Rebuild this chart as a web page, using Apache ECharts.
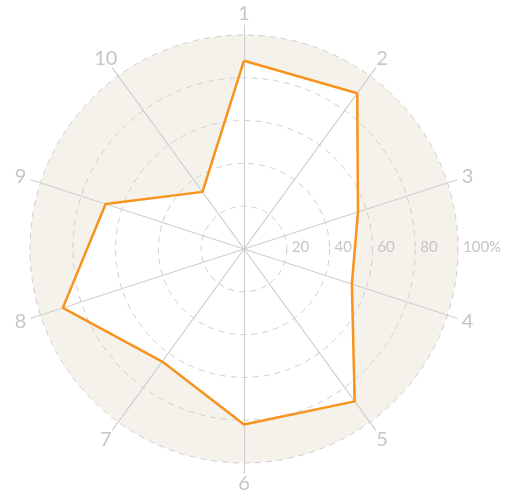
<!DOCTYPE html>
<html>
<head>
<meta charset="utf-8">
<script src="https://cdn.jsdelivr.net/npm/echarts@6/dist/echarts.min.js"></script>
<style>
  html, body { margin: 0; padding: 0; background: #fff; }
  #chart { width: 513px; height: 497px; }
</style>
</head>
<body>
<div id="chart"></div>
<script>
// Spoke labels, clockwise from the top
const categories = ['1', '2', '3', '4', '5', '6', '7', '8', '9', '10'];
// Score per spoke, in percent
const values = [88, 90, 56, 53, 88, 82, 65, 89, 68, 33];
// Ring labels
const ringTicks = [20, 40, 60, 80, 100];

// The radar lays indicators out counter-clockwise, so keep the first one at
// the top and walk the rest backwards to read clockwise.
const order = [0].concat(categories.map((_, i) => i).slice(1).reverse());
const cwCategories = order.map(i => categories[i]);
const cwValues = order.map(i => values[i]);

const CENTER = [244, 249];
const R = 214;          // radius of the 100% ring
const SPOKE_R = 224;    // spokes run a little past the outer ring
const GRID = '#cfcfcf';
const TEXT = '#c6c6c6';
const FONT = 'Lato, "Open Sans", sans-serif';

const chart = echarts.init(document.getElementById('chart'), null, { renderer: 'canvas' });

const ringAxisBase = {
  min: 0, max: 100, interval: 20,
  axisLine: { show: false },
  axisTick: { show: false },
  splitLine: { show: false }
};

chart.setOption({
  animation: false,
  backgroundColor: '#ffffff',
  polar: [
    { center: CENTER, radius: R, z: 0 },   // beige disc
    { center: CENTER, radius: R, z: 4 }    // ring labels on top
  ],
  angleAxis: [
    { polarIndex: 0, startAngle: 0, min: 0, max: 360, show: false },
    { polarIndex: 1, startAngle: 0, min: 0, max: 360, show: false }
  ],
  radiusAxis: [
    Object.assign({}, ringAxisBase, {
      polarIndex: 0, z: 0,
      axisLabel: { show: false },
      splitArea: { show: true, areaStyle: { color: ['#f5f2eb'] } }
    }),
    Object.assign({}, ringAxisBase, {
      polarIndex: 1, z: 4,
      splitArea: { show: false },
      axisLabel: {
        show: true,
        color: TEXT,
        fontFamily: FONT,
        fontSize: 15,
        margin: 2,
        align: 'left',
        verticalAlign: 'middle',
        padding: [0, 0, 0, 5],
        formatter: v => ringTicks.indexOf(v) < 0 ? '' : (v === 100 ? '100%' : String(v))
      }
    })
  ],
  radar: [
    {
      // dashed rings
      center: CENTER,
      radius: R,
      startAngle: 90,
      shape: 'circle',
      splitNumber: 5,
      z: 2,
      indicator: cwCategories.map(c => ({ name: c, min: 0, max: 100 })),
      axisName: { show: false },
      axisLine: { show: false },
      axisTick: { show: false },
      splitArea: { show: false },
      splitLine: { lineStyle: { color: GRID, type: [6, 5], width: 1 } }
    },
    {
      // spokes and their names, names centred on a circle just past the spokes
      center: CENTER,
      radius: SPOKE_R,
      startAngle: 90,
      shape: 'circle',
      z: 2,
      indicator: cwCategories.map(c => ({ name: c, min: 0, max: 100 })),
      nameGap: 11,
      axisName: {
        color: TEXT, fontFamily: FONT, fontSize: 20,
        align: 'center', verticalAlign: 'middle'
      },
      axisLine: { lineStyle: { color: GRID, width: 1.2 } },
      axisTick: { show: false },
      splitArea: { show: false },
      splitLine: { show: false }
    }
  ],
  series: [
    {
      // white fill under the grid lines
      type: 'radar',
      radarIndex: 0,
      z: 1,
      symbol: 'none',
      silent: true,
      lineStyle: { width: 0, opacity: 0 },
      areaStyle: { color: '#ffffff', opacity: 1 },
      data: [{ value: cwValues }]
    },
    {
      // orange outline on top
      type: 'radar',
      radarIndex: 0,
      z: 3,
      symbol: 'none',
      lineStyle: { color: '#f7931e', width: 2.5 },
      data: [{ value: cwValues }]
    }
  ]
});
</script>
</body>
</html>
